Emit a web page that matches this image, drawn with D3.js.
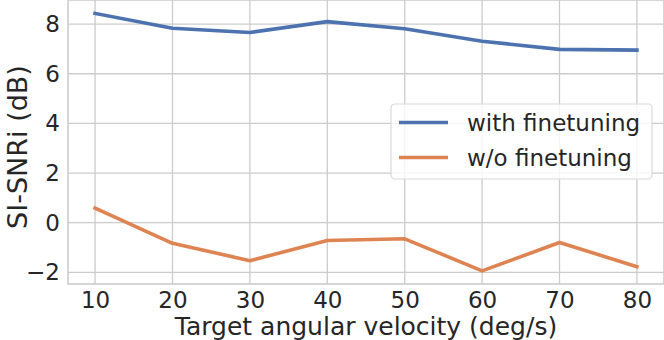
<!DOCTYPE html>
<html>
<head>
<meta charset="utf-8">
<script src="https://cdn.jsdelivr.net/npm/d3@7"></script>
<style>
  body { margin: 0; background: #fff; }
  svg { display: block; font-family: "DejaVu Sans", sans-serif; }
</style>
</head>
<body>
<div class="graph"></div>
<script>
const width = 664;
const height = 340;

// data
const velocities = [10, 20, 30, 40, 50, 60, 70, 80];
const withFinetuning = [8.43, 7.83, 7.66, 8.1, 7.81, 7.31, 6.98, 6.95];
const withoutFinetuning = [0.59, -0.83, -1.53, -0.72, -0.65, -1.94, -0.8, -1.77];
const xTicks = [10, 20, 30, 40, 50, 60, 70, 80];
const yTicks = [-2, 0, 2, 4, 6, 8];

const series = [
  { name: "with finetuning", values: withFinetuning, color: "#4c72b0" },
  { name: "w/o finetuning", values: withoutFinetuning, color: "#dd8452" },
];

const plot = { left: 68, right: 664, top: 0, bottom: 284 };
const textColor = "#262626";
const gridColor = "#cccccc";
const tickFont = 23;
const labelFont = 25;

const xScale = d3.scaleLinear().domain([6.5, 83.5]).range([plot.left, plot.right]);
const yScale = d3.scaleLinear().domain([-2.47, 8.97]).range([plot.bottom, plot.top]);

const svg = d3
  .select(".graph")
  .append("svg")
  .attr("width", width)
  .attr("height", height);

// grid
svg
  .append("g")
  .selectAll("line")
  .data(xTicks)
  .enter()
  .append("line")
  .attr("x1", (d) => xScale(d))
  .attr("x2", (d) => xScale(d))
  .attr("y1", plot.top)
  .attr("y2", plot.bottom)
  .attr("stroke", gridColor)
  .attr("stroke-width", 1.3);

svg
  .append("g")
  .selectAll("line")
  .data(yTicks)
  .enter()
  .append("line")
  .attr("x1", plot.left)
  .attr("x2", plot.right)
  .attr("y1", (d) => yScale(d))
  .attr("y2", (d) => yScale(d))
  .attr("stroke", gridColor)
  .attr("stroke-width", 1.3);

// frame
svg
  .append("rect")
  .attr("x", plot.left)
  .attr("y", plot.top)
  .attr("width", plot.right - plot.left)
  .attr("height", plot.bottom - plot.top)
  .attr("fill", "none")
  .attr("stroke", gridColor)
  .attr("stroke-width", 1.6);

// axes (labels only, no tick marks)
const xAxis = d3.axisBottom(xScale).tickValues(xTicks).tickSize(0).tickPadding(8);
const yAxis = d3.axisLeft(yScale).tickValues(yTicks).tickSize(0).tickPadding(8)
  .tickFormat((d) => (d < 0 ? "\u2212" + Math.abs(d) : d));

const gx = svg
  .append("g")
  .attr("transform", "translate(0," + plot.bottom + ")")
  .call(xAxis);
const gy = svg
  .append("g")
  .attr("transform", "translate(" + plot.left + ",0)")
  .call(yAxis);

[gx, gy].forEach((g) => {
  g.select(".domain").remove();
  g.selectAll("text")
    .attr("fill", textColor)
    .style("font-size", tickFont + "px")
    .style("font-family", "DejaVu Sans");
});

svg
  .append("text")
  .attr("x", (plot.left + plot.right) / 2)
  .attr("y", 335)
  .attr("text-anchor", "middle")
  .attr("fill", textColor)
  .style("font-size", labelFont + "px")
  .text("Target angular velocity (deg/s)");

svg
  .append("text")
  .attr("transform", "translate(27,147) rotate(-90)")
  .attr("text-anchor", "middle")
  .attr("fill", textColor)
  .style("font-size", "27px")
  .text("SI-SNRi (dB)");

// lines
const line = d3
  .line()
  .x((d, i) => xScale(velocities[i]))
  .y((d) => yScale(d));

svg
  .append("g")
  .selectAll("path")
  .data(series)
  .enter()
  .append("path")
  .attr("d", (d) => line(d.values))
  .attr("fill", "none")
  .attr("stroke", (d) => d.color)
  .attr("stroke-width", 3.6)
  .attr("stroke-linejoin", "round")
  .attr("stroke-linecap", "square");

// legend
const legend = svg.append("g").attr("transform", "translate(391,104)");
legend
  .append("rect")
  .attr("width", 261)
  .attr("height", 75)
  .attr("rx", 4)
  .attr("fill", "#ffffff")
  .attr("fill-opacity", 0.8)
  .attr("stroke", "#d9d9d9")
  .attr("stroke-width", 1.2);

const items = legend
  .selectAll("g.item")
  .data(series)
  .enter()
  .append("g")
  .attr("class", "item")
  .attr("transform", (d, i) => "translate(0," + (18.5 + i * 35) + ")");

items
  .append("line")
  .attr("x1", 8)
  .attr("x2", 57)
  .attr("stroke", (d) => d.color)
  .attr("stroke-width", 3.6);

items
  .append("text")
  .attr("x", 76)
  .attr("y", 8.3)
  .attr("fill", textColor)
  .style("font-size", tickFont + "px")
  .text((d) => d.name);
</script>
</body>
</html>
